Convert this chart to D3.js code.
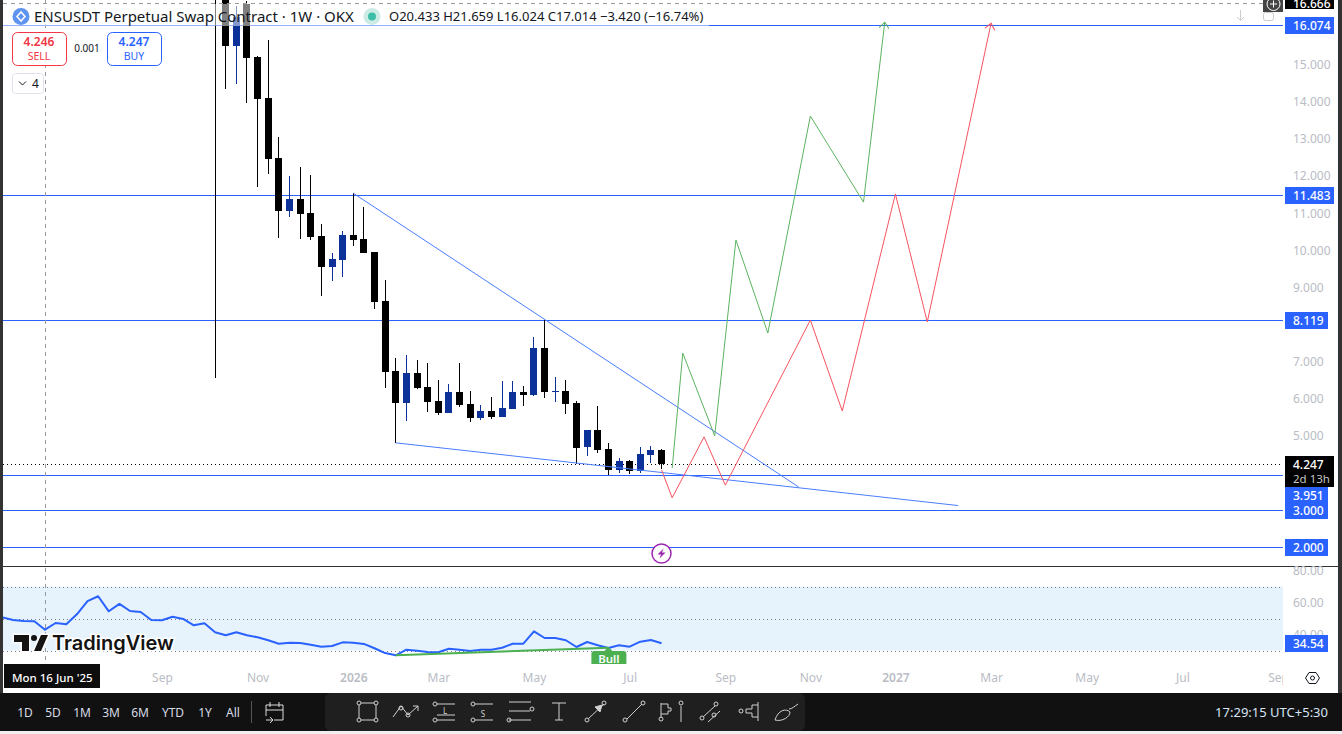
<!DOCTYPE html>
<html><head><meta charset="utf-8">
<script src="https://cdn.jsdelivr.net/npm/d3@7"></script>
<style>html,body{margin:0;padding:0;background:#fff;overflow:hidden}svg{display:block}text{font-family:"Noto Sans",sans-serif}</style>
</head><body><svg id="c" width="1342" height="734"></svg>
<script>
const weeks=[16,17,18,19,20,21,22,23,24,25,26,27,28,29,30,31,32,33,34,35,36,37,38,39,40,41,42,43,44,45,46,47,48,49,50,51,52,53,54,55,56,57,58];
const opens=[20,18,15.51,16.64,15.21,14.11,12.49,11.06,11.38,11,10.39,9.55,9.74,10.41,10.31,9.95,8.63,6.75,5.88,6.69,6.32,5.94,5.61,6.18,5.86,5.48,5.67,5.51,5.72,6.18,6.1,7.37,6.18,6.21,5.88,4.7,5.16,4.65,4.08,4.32,4.05,4.48,4.62];
const highs=[25,19,16.59,16.72,15.24,15.67,13.05,12,12.25,12.03,10.71,9.93,10.52,11.55,11.17,9.95,9.2,7.1,7.18,7.04,6.96,6.5,6.4,6.96,6.21,5.83,6.05,6.48,6.48,6.34,7.66,8.12,6.59,6.5,5.94,5.16,5.8,4.81,4.4,4.35,4.7,4.73,4.65];
const lows=[6.56,14.35,14.48,13.97,11.71,12.06,10.33,10.9,10.31,10.28,8.77,9.17,9.28,10.12,9.93,8.42,6.29,4.81,5.4,6.26,5.64,5.56,5.61,5.78,5.37,5.43,5.45,5.51,5.72,5.8,6.07,6.02,5.91,5.59,4.24,4.46,4.54,3.94,4,3.97,4,4.27,4.11];
const closes=[19,15.51,16.29,15.18,14.08,12.46,11.06,11.38,10.98,10.36,9.55,9.77,10.41,10.28,9.93,8.61,6.72,5.88,6.69,6.29,5.91,5.61,6.18,5.83,5.48,5.67,5.51,5.75,6.18,6.1,7.37,6.18,6.21,5.86,4.67,5.16,4.62,4.08,4.32,4.05,4.51,4.62,4.247];

const rsiStart=-4;
const rsiValues=[50.75,49.1,48.4,48.25,43,47.2,46.4,52.6,60.9,63.9,54.5,59.1,54.7,54.1,49.1,48.9,51.1,49.7,45.75,47,41.4,39.5,41.4,39.5,38.25,36.4,34.25,34.9,34.7,33.6,32.4,32.8,35.1,34.9,34.1,31.4,28.4,27,30.5,29.9,29.1,28.9,31.1,30.5,29.7,30.5,30.5,31.75,34.25,34.25,42,37.8,37.8,36.4,32.2,35.3,33.25,31.6,33.25,32.4,35.5,36.6,34.54];
const rsiLevels=[70,50,30];
const rsiTicks=[80,60,40];
const divergence=[[33,27],[53,31.7]];

const levels=[16.074,11.483,8.119,3.951,3,2];
const levelTagWide=[true,true,false,false,false,false];
const priceTicks=[15,14,13,12,11,10,9,7,6,5];
const lastPrice=4.247;

const greenWeeks=[59,60,63,65,68,72,77,79];
const greenPrices=[4.13,7.23,5,10.28,7.77,13.62,11.3,16.15];
const redWeeks=[58,59,62,64,72,75,80,83,89];
const redPrices=[4.08,3.33,4.97,3.67,8.12,5.67,11.52,8.07,16.12];
const wedgeUpperWeeks=[29,70.9];
const wedgeUpperPrices=[11.54,3.62];
const wedgeLowerWeeks=[33,85.9];
const wedgeLowerPrices=[4.81,3.12];

const timeWeeks=[11,20,29,37,46,55,64,72,80,89,98,107,116];
const timeLabels=["Sep","Nov","2026","Mar","May","Jul","Sep","Nov","2027","Mar","May","Jul","Sep"];
const rangeLabels=["1D","5D","1M","3M","6M","YTD","1Y","All"];
const rangeCenters=[25,53,82,111,140,173,205,233];

const BLUE="#2962ff",CANDLE_UP="#0c3299",GRID="#787b86",AXIS="#b9bcc4";
const x=d3.scaleLinear().domain([0,116]).range([45,45+116*10.63]);
const y=d3.scaleLinear().domain([3,16.074]).range([510,25]);
const r=d3.scaleLinear().domain([30,70]).range([650.5,586.5]);
const px=v=>Math.round(v)+.5;

const svg=d3.select("#c");
const defs=svg.append("defs");
const clip=(id,a,b,w,h)=>defs.append("clipPath").attr("id",id).append("rect").attr("x",a).attr("y",b).attr("width",w).attr("height",h);
clip("main",3,0,1280,566);clip("lower",3,567,1280,97);clip("time",3,664,1280,29);
[["arG","#5cb35f"],["arR","#f7525f"]].forEach(([id,c])=>{
  defs.append("marker").attr("id",id).attr("viewBox","-7 -5 8 10").attr("refX",0).attr("refY",0)
    .attr("markerWidth",8).attr("markerHeight",10).attr("markerUnits","userSpaceOnUse").attr("orient","auto")
    .append("path").attr("d","M-6,-5L0,0L-6,5").attr("fill","none").attr("stroke",c);
});
const main=svg.append("g").attr("clip-path","url(#main)");
const lower=svg.append("g").attr("clip-path","url(#lower)");

main.selectAll("line.lv").data(levels).join("line").attr("class","lv")
 .attr("x1",3).attr("x2",1283).attr("y1",d=>px(y(d))).attr("y2",d=>px(y(d))).attr("stroke",BLUE);
main.append("line").attr("x1",3).attr("x2",1283).attr("y1",px(y(lastPrice))).attr("y2",px(y(lastPrice)))
 .attr("stroke","#000").attr("stroke-dasharray","1 3");

const idx=d3.range(weeks.length);
const col=i=>closes[i]>=opens[i]?CANDLE_UP:"#000";
main.selectAll("rect.w").data(idx).join("rect").attr("class","w")
 .attr("x",i=>Math.floor(x(weeks[i]))).attr("width",1)
 .attr("y",i=>Math.round(y(highs[i]))).attr("height",i=>Math.round(y(lows[i]))-Math.round(y(highs[i])))
 .attr("fill",col);
main.selectAll("rect.b").data(idx).join("rect").attr("class","b")
 .attr("x",i=>Math.floor(x(weeks[i]))-3).attr("width",7)
 .attr("y",i=>Math.round(y(Math.max(opens[i],closes[i]))))
 .attr("height",i=>Math.max(1,Math.round(y(Math.min(opens[i],closes[i])))-Math.round(y(Math.max(opens[i],closes[i])))))
 .attr("fill",col);

const path=(ws,ps)=>d3.line().x((d,i)=>x(ws[i])).y((d,i)=>y(ps[i]))(ws);
main.append("path").attr("d",path(wedgeUpperWeeks,wedgeUpperPrices)).attr("fill","none").attr("stroke","#4a7dff");
main.append("path").attr("d",path(wedgeLowerWeeks,wedgeLowerPrices)).attr("fill","none").attr("stroke","#4a7dff");
main.append("path").attr("d",path(greenWeeks,greenPrices)).attr("fill","none").attr("stroke","#5cb35f").attr("marker-end","url(#arG)");
main.append("path").attr("d",path(redWeeks,redPrices)).attr("fill","none").attr("stroke","#f7525f").attr("marker-end","url(#arR)");

svg.append("line").attr("x1",3).attr("x2",1283).attr("y1",3.5).attr("y2",3.5).attr("stroke","#9a9a9a").attr("stroke-dasharray","4 4");
svg.append("line").attr("x1",45.5).attr("x2",45.5).attr("y1",0).attr("y2",664).attr("stroke","#9a9a9a").attr("stroke-dasharray","4 4");

svg.append("rect").attr("x",3).attr("y",4).attr("width",706).attr("height",22).attr("fill","#fff").attr("opacity",.5);

const pi=svg.append("g").attr("transform","translate(661.5,553.5)");
pi.append("circle").attr("r",9.5).attr("fill","#fff").attr("stroke","#9c27b0").attr("stroke-width",1.5);
pi.append("path").attr("d","M2,-5L-4,1L-0.5,1L-2,5L4,-1L0.5,-1Z").attr("fill","#9c27b0");

svg.append("line").attr("x1",0).attr("x2",1338).attr("y1",566.5).attr("y2",566.5).attr("stroke","#333");

lower.append("rect").attr("x",3).attr("width",1280).attr("y",r(70)).attr("height",r(30)-r(70)).attr("fill","#e6f3fd");
lower.selectAll("line.rl").data(rsiLevels).join("line").attr("class","rl").attr("x1",3).attr("x2",1283)
 .attr("y1",d=>px(r(d))).attr("y2",d=>px(r(d))).attr("stroke",GRID).attr("stroke-dasharray","1 3");
lower.append("path").attr("fill","none").attr("stroke",BLUE).attr("stroke-width",2).attr("stroke-linejoin","round")
 .attr("d",d3.line().x((d,i)=>x(rsiStart+i)).y(d=>r(d))(rsiValues));
lower.append("path").attr("fill","none").attr("stroke","#4caf50").attr("stroke-width",2)
 .attr("d",d3.line().x(d=>x(d[0])).y(d=>r(d[1]))(divergence));
const bw=x(divergence[1][0]);
lower.append("rect").attr("x",bw-17).attr("y",651).attr("width",35).attr("height",20).attr("rx",3).attr("fill","#4caf50");
lower.append("path").attr("d",`M${bw-4},651L${bw},647L${bw+4},651Z`).attr("fill","#4caf50");
lower.append("text").attr("x",bw+.5).attr("y",663).attr("text-anchor","middle").attr("fill","#fff").attr("font-size",11.5).attr("font-weight",600).text("Bull");

const lg=svg.append("g");
const logoD="M14,635H29V651H22V642H14ZM34,651L41,635H48L41,651Z";
lg.append("path").attr("d",logoD).attr("stroke","#fff").attr("stroke-width",3).attr("fill","#fff");
lg.append("path").attr("d",logoD).attr("fill","#131313");
lg.append("circle").attr("cx",34).attr("cy",638).attr("r",3).attr("fill","#131313");
lg.append("text").attr("x",52).attr("y",650).attr("font-size",20).attr("font-weight",600).attr("fill","#131313")
 .attr("stroke","#fff").attr("stroke-width",3).attr("paint-order","stroke").style("font-family","Inter").text("TradingView");

const pAxis=svg.append("g").attr("transform","translate(1283,0)")
 .call(d3.axisRight(y).tickValues(priceTicks).tickFormat(d3.format(".3f")).tickSize(0).tickPadding(10));
const rAxis=svg.append("g").attr("transform","translate(1283,0)")
 .call(d3.axisRight(r).tickValues(rsiTicks).tickFormat(d3.format(".2f")).tickSize(0).tickPadding(10));
const tAxis=svg.append("g").attr("clip-path","url(#time)").append("g").attr("transform","translate(0,668)")
 .call(d3.axisBottom(x).tickValues(timeWeeks).tickFormat((d,i)=>timeLabels[i]).tickSize(0).tickPadding(5));
[pAxis,rAxis,tAxis].forEach(a=>{a.select(".domain").remove();
 a.selectAll("text").attr("fill",AXIS).attr("font-size",12).style("font-family",'"Noto Sans",sans-serif');});
tAxis.selectAll("text").filter(d=>d===29||d===80).attr("font-weight",600);

function tag(v,yy,wide,fill){
 const g=svg.append("g");
 g.append("rect").attr("x",1285).attr("y",Math.round(yy)-8).attr("width",wide?49:43).attr("height",17).attr("fill",fill||BLUE);
 g.append("text").attr("x",1293).attr("y",Math.round(yy)+4.5).attr("fill","#fff").attr("font-size",12).attr("font-weight",500).text(v);
}
levels.forEach((d,i)=>tag(d3.format(".3f")(d),y(d)+(d===3.951?20:0),levelTagWide[i]));
tag(d3.format(".2f")(rsiValues[rsiValues.length-1]),r(rsiValues[rsiValues.length-1]),false);
svg.append("rect").attr("x",1285).attr("y",456).attr("width",49).attr("height",31).attr("fill","#000");
svg.append("text").attr("x",1293).attr("y",468.5).attr("fill","#fff").attr("font-size",12).attr("font-weight",500).text(d3.format(".3f")(lastPrice));
svg.append("text").attr("x",1293).attr("y",482.5).attr("fill","#c4c4c4").attr("font-size",11.5).text("2d 13h");
svg.append("rect").attr("x",1285).attr("y",-6).attr("width",49).attr("height",15).attr("fill","#000");
svg.append("text").attr("x",1293).attr("y",8).attr("fill","#fff").attr("font-size",12).attr("font-weight",500).text("16.666");

svg.append("rect").attr("x",1263).attr("y",-1).attr("width",20).attr("height",13).attr("fill","#444");
svg.append("circle").attr("cx",1273.5).attr("cy",4).attr("r",6.5).attr("fill","none").attr("stroke","#fff");
svg.append("path").attr("d","M1270,4H1277M1273.5,0.5V7.5").attr("stroke","#fff");
svg.append("path").attr("d","M1240.5,10V20M1237,17L1240.5,20.5L1244,17").attr("fill","none").attr("stroke","#ccc");
svg.append("rect").attr("x",1263.5).attr("y",12.5).attr("width",10).attr("height",8).attr("rx",2).attr("fill","none").attr("stroke","#ccc");

// header
svg.append("circle").attr("cx",21).attr("cy",16.5).attr("r",8.5).attr("fill","#5f93f0");
svg.append("path").attr("d","M21,12L17,16.5L21,21L25,16.5Z").attr("fill","none").attr("stroke","#fff").attr("stroke-width",1.5);
svg.append("text").attr("x",34).attr("y",21.5).attr("font-size",15).attr("fill","#131722").text("ENSUSDT Perpetual Swap Contract · 1W · OKX");
svg.append("circle").attr("cx",372).attr("cy",16.5).attr("r",8.5).attr("fill","#cdebe5");
svg.append("circle").attr("cx",372).attr("cy",16.5).attr("r",4).attr("fill","#3dbda7");
svg.append("text").attr("x",389).attr("y",21).attr("font-size",13).attr("fill","#131722").text("O20.433  H21.659  L16.024  C17.014  −3.420 (−16.74%)");

// trade buttons
function btn(a,c,v,l){
 svg.append("rect").attr("x",a+.5).attr("y",32.5).attr("width",54).attr("height",33).attr("rx",5).attr("fill","#fff").attr("stroke",c);
 svg.append("text").attr("x",a+27).attr("y",46).attr("text-anchor","middle").attr("fill",c).attr("font-size",12).attr("font-weight",600).text(v);
 svg.append("text").attr("x",a+27).attr("y",60).attr("text-anchor","middle").attr("fill",c).attr("font-size",10.5).text(l);
}
btn(12,"#f23645","4.246","SELL");btn(107,"#2962ff","4.247","BUY");
svg.append("text").attr("x",87).attr("y",52).attr("text-anchor","middle").attr("fill","#131722").attr("font-size",10).text("0.001");
svg.append("rect").attr("x",12.5).attr("y",73.5).attr("width",31).attr("height",20).attr("rx",3).attr("fill","#fff").attr("stroke","#e0e3eb");
svg.append("path").attr("d","M19,81.5L22.5,85L26,81.5").attr("fill","none").attr("stroke","#131722");
svg.append("text").attr("x",32).attr("y",88).attr("fill","#131722").attr("font-size",12).text("4");

// date tag
svg.append("rect").attr("x",4).attr("y",664).attr("width",96).attr("height",24).attr("fill","#0d0d0d");
svg.append("text").attr("x",12).attr("y",682).attr("fill","#fff").attr("font-size",11.5).attr("font-weight",500).text("Mon 16 Jun '25");
// settings icon
svg.append("path").attr("d","M1305.5,678L1309,672.5H1316L1319.5,678L1316,683.5H1309Z").attr("fill","none").attr("stroke","#131722");
svg.append("circle").attr("cx",1312.5).attr("cy",678).attr("r",2).attr("fill","none").attr("stroke","#131722");

// frame and toolbar
svg.append("rect").attr("x",0).attr("y",0).attr("width",3).attr("height",693).attr("fill","#333");
svg.append("rect").attr("x",1338).attr("y",0).attr("width",4).attr("height",693).attr("fill","#333");
svg.append("rect").attr("x",0).attr("y",693).attr("width",1342).attr("height",38).attr("fill","#111");
svg.append("rect").attr("x",0).attr("y",731).attr("width",1342).attr("height",3).attr("fill","#efefef");
svg.append("rect").attr("x",325).attr("y",693).attr("width",480).attr("height",38).attr("rx",6).attr("fill","#1f1f1f");
rangeLabels.forEach((t,i)=>svg.append("text").attr("x",rangeCenters[i]).attr("y",717).attr("text-anchor","middle").attr("fill","#d6dbe6").attr("font-size",12).text(t));
svg.append("line").attr("x1",251.5).attr("x2",251.5).attr("y1",701).attr("y2",723).attr("stroke","#555");
svg.append("path").attr("d","M266,716V705H283V720H274M270,702V707M279,702V707M266,710H283M266,720H273M270,717L273,720L270,723").attr("fill","none").attr("stroke","#ddd");
svg.append("text").attr("x",1328).attr("y",717).attr("text-anchor","end").attr("fill","#d6e4f5").attr("font-size",13).text("17:29:15 UTC+5:30");

// drawing tools
const ic=svg.append("g").attr("fill","none").attr("stroke","#d0d0d0");
const ln=d=>ic.append("path").attr("d",d);
const dot=(a,b)=>ic.append("circle").attr("cx",a).attr("cy",b).attr("r",2);
ln("M359,703H376V720H359Z");[[359,703],[376,703],[359,720],[376,720]].forEach(p=>ic.append("circle").attr("cx",p[0]).attr("cy",p[1]).attr("r",2).attr("fill","#1f1f1f"));
ln("M393,717L401,706L408,715L418,706M413,706H418V711");dot(401,708);dot(408,715);
ln("M437,704H455M437,715H455M437,720H455");dot(435,704);dot(435,720);
svg.append("text").attr("x",445).attr("y",714).attr("text-anchor","middle").attr("font-size",8).attr("fill","#d0d0d0").text("L");
ln("M475,704H493M475,720H493");dot(473,704);dot(473,720);
svg.append("text").attr("x",483).attr("y",717).attr("text-anchor","middle").attr("font-size",8).attr("fill","#d0d0d0").text("S");
ln("M509,702H531M509,711H530M509,720H531");dot(532,709);dot(509,720);
ln("M552,703H566M559,703V720M555,720H563");
ln("M588,719L604,704");dot(587,720);dot(604,703);ic.append("path").attr("d","M602,705L595,707L600,712Z").attr("fill","#d0d0d0");
ln("M627,719L642,704");dot(625,720);dot(643,703);
ln("M661,703V718M661,704H668V708H671V711H668V714H661");dot(661,719);
ln("M681,706V722");dot(681,703);
ln("M703,717L715,706M708,722L720,711");dot(702,718);dot(716,704);dot(714,715);
ln("M758,702V721M758,705H752V709H746V713H752V717H758");dot(741,711);
ln("M775,720C778,710 786,708 790,712C790,717 782,722 775,720ZM789,709C792,709 795,706 798,704");
</script></body></html>
